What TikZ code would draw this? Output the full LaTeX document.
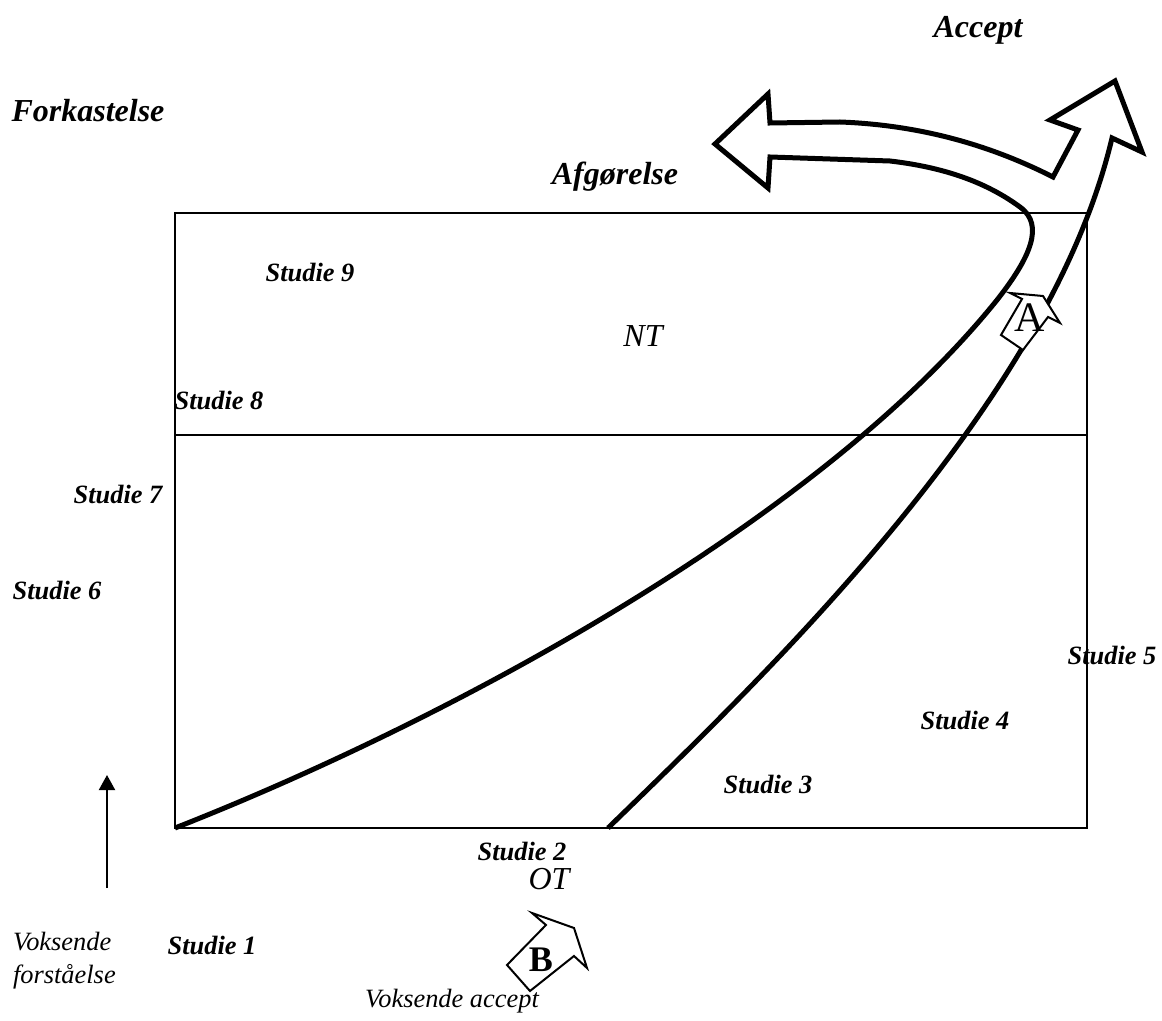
\documentclass[tikz,border=0pt]{standalone}
\usepackage{fontspec}
\setmainfont{Liberation Serif}
\usetikzlibrary{arrows.meta}
\tikzset{
  studie/.style={font=\fontsize{13.2}{16}\selectfont\bfseries\itshape},
  udfald/.style={font=\fontsize{16}{19}\selectfont\bfseries\itshape},
  niveau/.style={font=\fontsize{16}{19}\selectfont\itshape},
  forklaring/.style={font=\fontsize{13.2}{16.5}\selectfont\itshape, align=left},
  blokpil/.style={draw, line width=1pt, fill=white, line join=miter},
}
\begin{document}
\begin{tikzpicture}[x=0.5pt, y=-0.5pt]
\useasboundingbox (0,0) rectangle (1162,1021);
% felt OT / NT
\draw[line width=1pt] (175,213) rectangle (1087,828);
\draw[line width=1pt] (175,435) -- (1087,435);
% den store pil
\draw[line width=2.5pt] (175,828) .. controls (450,720) and (820,520) .. (997,300)
  .. controls (1030,258) and (1045,225) .. (1020,207)
  .. controls (990,185) and (950,168) .. (890,161)
  -- (770,157) -- (768,188) -- (715,144) -- (768,94) -- (770,123)
  -- (840,122) .. controls (920,125) and (990,145) .. (1053,177)
  -- (1078,130) -- (1050,120) -- (1115,81) -- (1142,152) -- (1112,138)
  .. controls (1050,400) and (778,663) .. (608,828);
% A og B
\draw[blokpil] (1010,293) -- (1043,296) -- (1060,323) -- (1048,317) -- (1023,350) -- (1001,335) -- (1022,299) -- cycle;
\node[font=\fontsize{21}{24}\selectfont] (pilA) at (1030,318) {A};
\draw[blokpil] (532,913) -- (574,928) -- (587,968) -- (574,956) -- (530,991) -- (507,965) -- (546,925) -- cycle;
\node[font=\fontsize{18}{21}\selectfont\bfseries] (pilB) at (541,960) {B};
% tekster
\node[udfald] (accept) at (978,30) {Accept};
\node[udfald] (forkast) at (88,111) {Forkastelse};
\node[udfald] (afgoer) at (615,177) {Afgørelse};
\node[studie] (s9) at (310,272) {Studie 9};
\node[niveau] (nt) at (643,336) {NT};
\node[studie] (s8) at (219,400) {Studie 8};
\node[studie] (s7) at (118,494) {Studie 7};
\node[studie] (s6) at (57,590) {Studie 6};
\node[studie] (s5) at (1112,655) {Studie 5};
\node[studie] (s4) at (965,720) {Studie 4};
\node[studie] (s3) at (768,784) {Studie 3};
\node[studie] (s2) at (522,851) {Studie 2};
\node[niveau] (ot) at (549,879) {OT};
\node[studie] (s1) at (212,945) {Studie 1};
\node[forklaring, anchor=west] (forst) at (6,961) {Voksende\\forståelse};
\node[forklaring] (accvoks) at (452,1001) {Voksende accept};
% pil for voksende forstaaelse
\coordinate (op0) at (107,888);
\coordinate (op1) at (107,775);
\draw[line width=1pt, -{Triangle[length=7.5pt,width=8pt]}] (op0) -- (op1);
\end{tikzpicture}
\end{document}
